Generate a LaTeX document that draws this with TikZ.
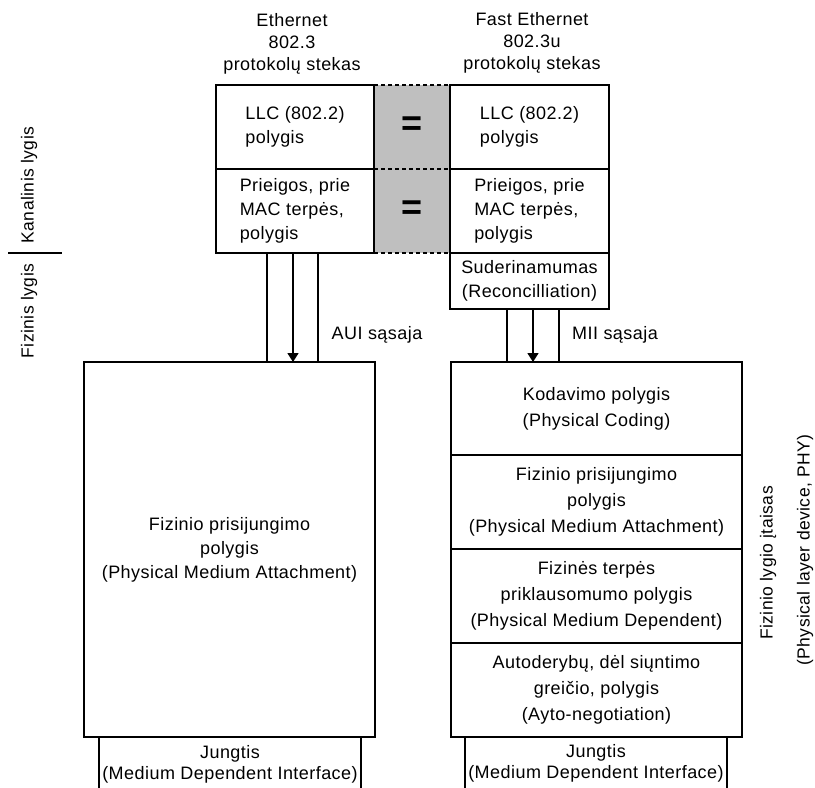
\documentclass[tikz,border=0pt]{standalone}
\usepackage{fontspec}
\setmainfont{Liberation Sans}[LetterSpace=2.5]
\usetikzlibrary{arrows.meta,positioning,backgrounds}

\begin{document}
\begin{tikzpicture}[x=1pt, y=-1pt, line width=1.8pt,
    font=\fontsize{18}{24}\selectfont,
    lay/.style={draw, inner sep=0pt, outer sep=0pt, align=center},
    wide/.style={lay, minimum width=291pt, minimum height=94pt,
      font=\fontsize{18}{26}\selectfont},
    eqsign/.style={font=\fontsize{36}{36}\selectfont\bfseries},
    side/.style={rotate=90, align=center, font=\fontsize{17.5}{22}\selectfont},
    bus/.style={line width=1.6pt}]
    \useasboundingbox (0,0) rectangle (815,788);

    % Headers
    \node[align=center, font=\fontsize{18}{22}\selectfont] (hdA) at (292,44)
        {Ethernet\\802.3\\protokolų stekas};
    \node[align=center, font=\fontsize{18}{22}\selectfont] (hdB) at (532,43)
        {Fast Ethernet\\802.3u\\protokolų stekas};

    % Ethernet stack
    \node[lay, align=left, minimum width=158pt, minimum height=84pt] (llcA) at (295,127)
        {LLC (802.2)\\polygis};
    \node[lay, align=left, minimum width=158pt, minimum height=84pt, below=0pt of llcA] (macA)
        {Prieigos, prie\\MAC terpės,\\polygis};

    % Fast Ethernet stack
    \node[lay, align=left, minimum width=159pt, minimum height=84pt] (llcB) at (529.5,127)
        {LLC (802.2)\\polygis};
    \node[lay, align=left, minimum width=159pt, minimum height=84pt, below=0pt of llcB] (macB)
        {Prieigos, prie\\MAC terpės,\\polygis};
    \node[lay, minimum width=159pt, minimum height=56pt, below=0pt of macB] (recB)
        {Suderinamumas\\(Reconcilliation)};

    % Equal layers
    \begin{scope}[on background layer]
        \fill[black!25] (llcA.north east) rectangle (macB.south west);
    \end{scope}
    \draw[line width=1.2pt, dash pattern=on 4pt off 3pt] (llcA.north east) -- (llcB.north west);
    \draw[line width=1.2pt, dash pattern=on 4pt off 3pt] (llcA.south east) -- (llcB.south west);
    \draw[line width=1.2pt, dash pattern=on 4pt off 3pt] (macA.south east) -- (macB.south west);
    \node[eqsign] (eqLLC) at (412,126) {=};
    \node[eqsign] (eqMAC) at (412,210) {=};

    % Physical layer, Ethernet
    \node[lay, minimum width=291pt, minimum height=375pt] (pmaA) at (229.5,549.5)
        {Fizinio prisijungimo\\polygis\\(Physical Medium Attachment)};
    \node[align=center, font=\fontsize{18}{21}\selectfont] (jungA) at (230,764)
        {Jungtis\\(Medium Dependent Interface)};
    \draw (99,737) -- (99,788);
    \draw (361,737) -- (361,788);

    % Physical layer, Fast Ethernet
    \node[wide, minimum height=93pt] (kodB) at (596.5,408.5)
        {Kodavimo polygis\\(Physical Coding)};
    \node[wide, below=0pt of kodB] (pmaB)
        {Fizinio prisijungimo\\polygis\\(Physical Medium Attachment)};
    \node[wide, below=0pt of pmaB] (pmdB)
        {Fizinės terpės\\priklausomumo polygis\\(Physical Medium Dependent)};
    \node[wide, below=0pt of pmdB] (anB)
        {Autoderybų, dėl siųntimo\\greičio, polygis\\(Ayto-negotiation)};
    \node[align=center, font=\fontsize{18}{21}\selectfont] (jungB) at (596,763)
        {Jungtis\\(Medium Dependent Interface)};
    \draw (465,737) -- (465,788);
    \draw (727,737) -- (727,788);

    % Interfaces
    \foreach \x in {267,318}
        \draw[bus] (macA.south -| \x,0) -- (pmaA.north -| \x,0);
    \draw[bus, -{Triangle[width=11pt,length=9pt]}] (macA.south -| 293,0) -- (pmaA.north -| 293,0);
    \node (aui) at (377,335) {AUI sąsaja};
    \foreach \x in {507,559}
        \draw[bus] (recB.south -| \x,0) -- (kodB.north -| \x,0);
    \draw[bus, -{Triangle[width=11pt,length=9pt]}] (recB.south -| 533,0) -- (kodB.north -| 533,0);
    \node (mii) at (615,335) {MII sąsaja};

    % Side labels
    \node[side] (kan) at (29,185) {Kanalinis lygis};
    \node[side] (fiz) at (29,311) {Fizinis lygis};
    \draw[line width=1.5pt] (8,253) -- (62,253);
    \node[side] (phyA) at (768,563) {Fizinio lygio įtaisas};
    \node[side] (phyB) at (805,550) {(Physical layer device, PHY)};
\end{tikzpicture}
\end{document}
